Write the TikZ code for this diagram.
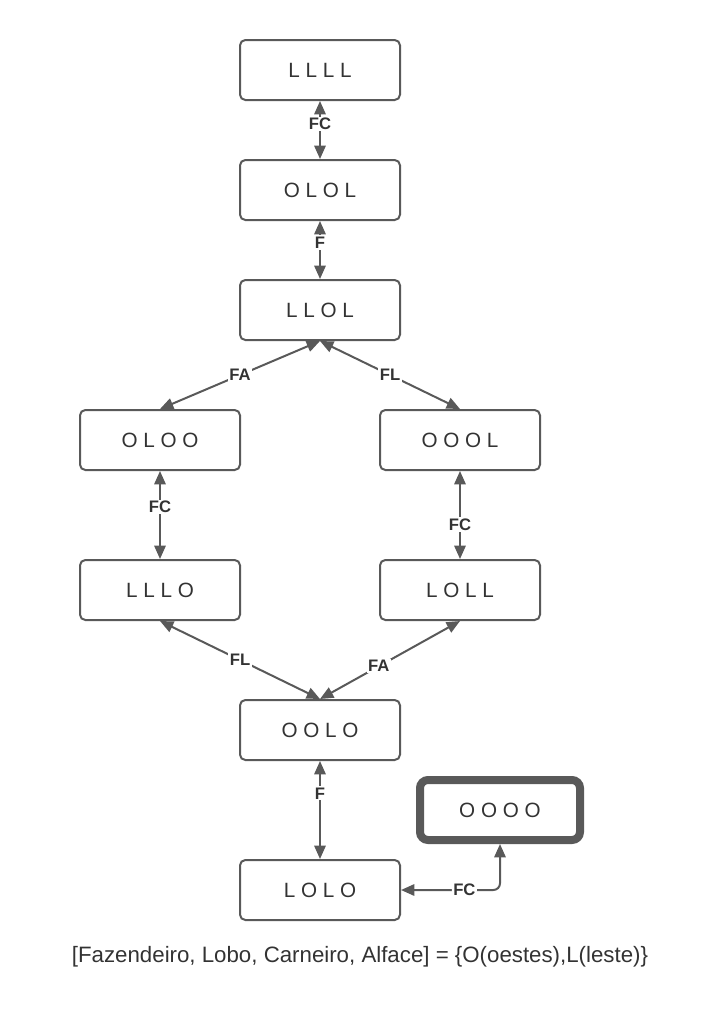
\documentclass[tikz,border=0pt]{standalone}
\usepackage{fontspec}
\setmainfont{Liberation Sans}
\usetikzlibrary{arrows.meta}
\definecolor{linegray}{HTML}{595959}
\definecolor{textgray}{HTML}{333333}

\begin{document}
\begin{tikzpicture}[x=0.75pt,y=-0.75pt,
    state/.style={draw=linegray,line width=1.5pt,rounded corners=4pt,minimum width=120pt,minimum height=45pt,text=textgray,font=\fontsize{15.5}{17}\selectfont},
    goal/.style={state,line width=6pt,rounded corners=6pt},
    link/.style={draw=linegray,line width=1.5pt,{Triangle[length=10pt,width=8.5pt]}-{Triangle[length=10pt,width=8.5pt]}},
    tag/.style={fill=white,inner sep=1pt,text=textgray,font=\bfseries\fontsize{12.5}{14}\selectfont}]
    \useasboundingbox (0,0) rectangle (720,1015);
    % states
    \node[state] (llll) at (320,70) {L L L L};
    \node[state] (olol) at (320,190) {O L O L};
    \node[state] (llol) at (320,310) {L L O L};
    \node[state] (oloo) at (160,440) {O L O O};
    \node[state] (oool) at (460,440) {O O O L};
    \node[state] (lllo) at (160,590) {L L L O};
    \node[state] (loll) at (460,590) {L O L L};
    \node[state] (oolo) at (320,730) {O O L O};
    \node[state] (lolo) at (320,890) {L O L O};
    \node[goal] (oooo) at (500,810) {O O O O};
    % moves
    \draw[link] (llll.south) -- node[tag,pos=0.4]{FC} (olol.north);
    \draw[link] (olol.south) -- node[tag,pos=0.37]{F} (llol.north);
    \draw[link] (llol.south) -- node[tag]{FA} (oloo.north);
    \draw[link] (llol.south) -- node[tag]{FL} (oool.north);
    \draw[link] (oloo.south) -- node[tag,pos=0.41]{FC} (lllo.north);
    \draw[link] (oool.south) -- node[tag,pos=0.61]{FC} (loll.north);
    \draw[link] (lllo.south) -- node[tag]{FL} (oolo.north);
    \draw[link] (loll.south) -- node[tag,pos=0.58]{FA} (oolo.north);
    \draw[link] (oolo.south) -- node[tag,pos=0.33]{F} (lolo.north);
    \draw[link,rounded corners=5pt] (lolo.east) -| node[tag,pos=0.32]{FC} (oooo.south);
    % legend
    \node[text=textgray,font=\fontsize{16.7}{18}\selectfont] (caption) at (360,957) {[Fazendeiro, Lobo, Carneiro, Alface] = \{O(oestes),L(leste)\}};
\end{tikzpicture}
\end{document}
